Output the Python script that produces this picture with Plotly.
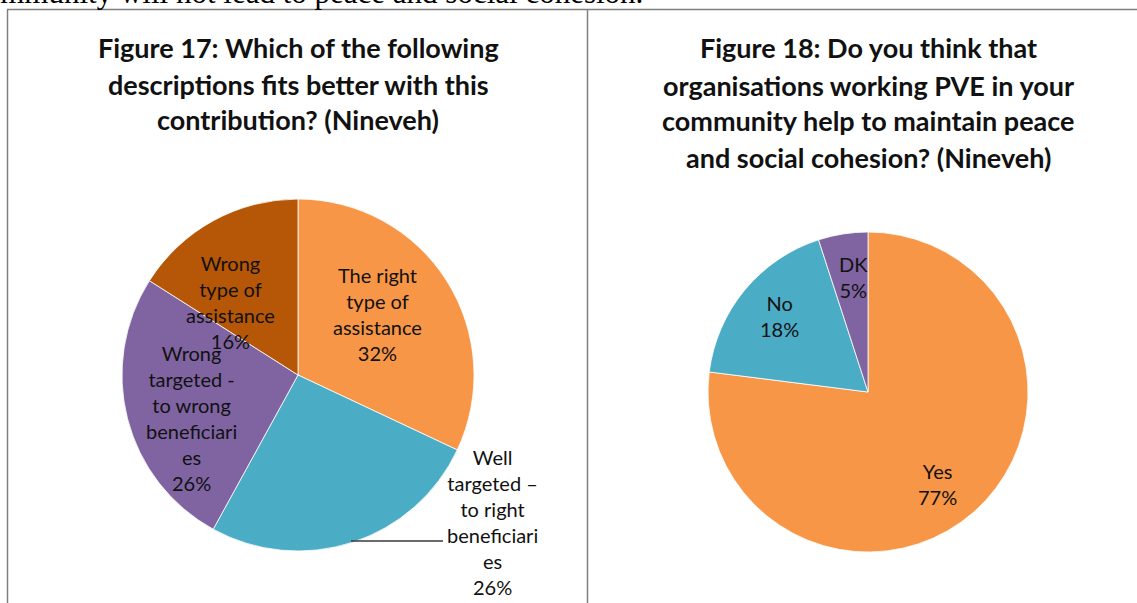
import plotly.graph_objects as go

W, H = 1137, 603

# Figure 17: which description fits the contribution (Nineveh)
fig17_categories = [
    "The right type of assistance",
    "Well targeted – to right beneficiaries",
    "Wrong targeted - to wrong beneficiaries",
    "Wrong type of assistance",
]
fig17_values = [32, 26, 26, 16]
fig17_wrapped = [
    ["The right", "type of", "assistance"],
    ["Well", "targeted –", "to right", "beneficiari", "es"],
    ["Wrong", "targeted -", "to wrong", "beneficiari", "es"],
    ["Wrong", "type of", "assistance"],
]
fig17_title = [
    "Figure 17: Which of the following",
    "descriptions fits better with this",
    "contribution? (Nineveh)",
]

# Figure 18: do PVE organisations help maintain peace (Nineveh)
fig18_categories = ["Yes", "No", "DK"]
fig18_values = [77, 18, 5]
fig18_title = [
    "Figure 18: Do you think that",
    "organisations working PVE in your",
    "community help to maintain peace",
    "and social cohesion? (Nineveh)",
]

body_text = "community will not lead to peace and social cohesion."

# ---- styling / layout (pixels) ----
fig17_colors = ["#F79646", "#4BACC6", "#8064A2", "#B65708"]
fig18_colors = ["#F79646", "#4BACC6", "#8064A2"]

pie17_center, pie17_r = (298, 375), 176
pie18_center, pie18_r = (868, 392), 160

fig17_label_pos = [(377, 314), (492, 522), (191, 418), (230, 302)]
fig18_label_pos = [(937, 484), (779, 316), (853, 277)]

fig17_title_y = [48, 84, 120]
fig18_title_y = [48, 85, 121, 158]

LABEL_FONT = dict(family="Lato", size=20, color="#111111")
TITLE_FONT = dict(family="Lato", size=27, color="#111111", weight="bold")
FRAME = "#7f7f7f"


def px(x):
    return x / W


def py(y):
    return 1 - y / H


def pie_domain(center, r):
    cx, cy = center
    return dict(x=[px(cx - r), px(cx + r)], y=[py(cy + r), py(cy - r)])


fig = go.Figure()

fig.add_trace(go.Pie(
    labels=fig17_categories, values=fig17_values,
    marker=dict(colors=fig17_colors, line=dict(color="white", width=0.8)),
    sort=False, direction="clockwise", rotation=0,
    textinfo="none", hoverinfo="label+percent",
    domain=pie_domain(pie17_center, pie17_r), showlegend=False,
))
fig.add_trace(go.Pie(
    labels=fig18_categories, values=fig18_values,
    marker=dict(colors=fig18_colors, line=dict(color="white", width=0.8)),
    sort=False, direction="clockwise", rotation=0,
    textinfo="none", hoverinfo="label+percent",
    domain=pie_domain(pie18_center, pie18_r), showlegend=False,
))

annotations = []


def data_label(lines, value, pos):
    text = "<br>".join(list(lines) + [f"{value}%"])
    annotations.append(dict(
        x=px(pos[0]), y=py(pos[1]), xref="paper", yref="paper",
        text=text, showarrow=False, xanchor="center", yanchor="middle",
        align="center", font=LABEL_FONT,
    ))


total17 = sum(fig17_values)
for lines, v, pos in zip(fig17_wrapped, fig17_values, fig17_label_pos):
    data_label(lines, round(100 * v / total17), pos)

total18 = sum(fig18_values)
for name, v, pos in zip(fig18_categories, fig18_values, fig18_label_pos):
    data_label([name], round(100 * v / total18), pos)

for line, y in zip(fig17_title, fig17_title_y):
    annotations.append(dict(
        x=px(pie17_center[0]), y=py(y), xref="paper", yref="paper",
        text=line, showarrow=False, xanchor="center", yanchor="middle",
        font=TITLE_FONT,
    ))
for line, y in zip(fig18_title, fig18_title_y):
    annotations.append(dict(
        x=px(pie18_center[0]), y=py(y), xref="paper", yref="paper",
        text=line, showarrow=False, xanchor="center", yanchor="middle",
        font=TITLE_FONT,
    ))

# running body text above the chart frame
annotations.append(dict(
    x=px(-31), y=py(-8), xref="paper", yref="paper",
    text=body_text, showarrow=False, xanchor="left", yanchor="middle",
    font=dict(family="Liberation Serif", size=31, color="#000000"),
))

shapes = [
    # frame
    dict(type="line", xref="paper", yref="paper", x0=px(7), x1=px(W), y0=py(9.5), y1=py(9.5),
         line=dict(color=FRAME, width=1.5)),
    dict(type="line", xref="paper", yref="paper", x0=px(7.5), x1=px(7.5), y0=py(9.5), y1=py(H),
         line=dict(color=FRAME, width=1.5)),
    dict(type="line", xref="paper", yref="paper", x0=px(587.5), x1=px(587.5), y0=py(9.5), y1=py(H),
         line=dict(color=FRAME, width=1.5)),
    # leader line for the "Well targeted" label
    dict(type="line", xref="paper", yref="paper", x0=px(351), x1=px(443), y0=py(541), y1=py(541),
         line=dict(color="#3a3a3a", width=1.3)),
]

fig.update_layout(
    width=W, height=H,
    margin=dict(l=0, r=0, t=0, b=0),
    paper_bgcolor="white", plot_bgcolor="white",
    annotations=annotations, shapes=shapes,
    showlegend=False,
)

fig.write_html("out.html")
